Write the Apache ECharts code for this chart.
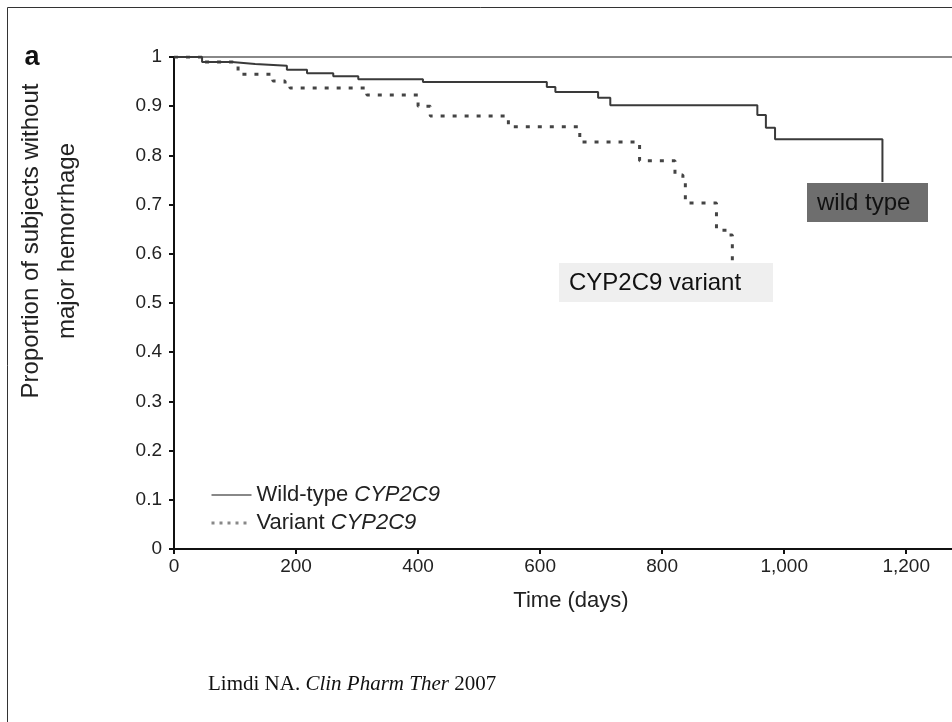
<!DOCTYPE html>
<html>
<head>
<meta charset="utf-8">
<script src="https://cdn.jsdelivr.net/npm/echarts@6/dist/echarts.min.js"></script>
<style>
  html, body { margin: 0; padding: 0; background: #fff; }
  #main { width: 952px; height: 722px; }
</style>
</head>
<body>
<div id="main"></div>
<script>
// Kaplan-Meier steps: [days, proportion]
var wildType = [
    [0, 1], [46, 0.990], [95, 0.986], [133, 0.982], [185, 0.974], [218, 0.967],
    [261, 0.961], [302, 0.955], [408, 0.949], [611, 0.939], [625, 0.929],
    [695, 0.917], [715, 0.902], [956, 0.882], [970, 0.856], [985, 0.833],
    [1161, 0.746]
];
var variant = [
    [0, 1], [46, 0.990], [95, 0.986], [105, 0.965], [162, 0.951], [182, 0.943],
    [190, 0.937], [316, 0.923], [400, 0.900], [420, 0.880], [548, 0.858],
    [665, 0.827], [763, 0.789], [821, 0.760], [834, 0.744], [838, 0.703],
    [889, 0.648], [906, 0.638], [915, 0.587]
];
var seriesNames = ['Wild-type CYP2C9', 'Variant CYP2C9'];
var xTicks = [0, 200, 400, 600, 800, 1000, 1200];
var yTicks = [0, 0.1, 0.2, 0.3, 0.4, 0.5, 0.6, 0.7, 0.8, 0.9, 1];

var sans = 'Liberation Sans, Arial, sans-serif';
var serif = 'Liberation Serif, Times New Roman, serif';

function drawChart() {
    var myChart = echarts.init(document.getElementById('main'));
    var option = {
        animation: false,
        backgroundColor: '#fff',
        grid: { left: 174, top: 57, right: 0, bottom: 173 },
        legend: {
            orient: 'vertical',
            left: 205,
            top: 479,
            itemWidth: 40,
            itemHeight: 14,
            itemGap: 6,
            itemStyle: { opacity: 0 },
            data: [
                { name: seriesNames[0], lineStyle: { color: '#888', width: 2 } },
                { name: seriesNames[1], lineStyle: { color: '#888', width: 3, type: [3, 5] } }
            ],
            formatter: function (name) {
                var parts = name.split(' ');
                return '{n|' + parts[0] + ' }{i|' + parts[1] + '}';
            },
            textStyle: {
                rich: {
                    n: { fontFamily: sans, fontSize: 22, color: '#222' },
                    i: { fontFamily: sans, fontSize: 22, color: '#222', fontStyle: 'italic' }
                }
            }
        },
        xAxis: [{
            type: 'value',
            min: 0,
            max: 1275,
            interval: 200,
            name: 'Time (days)',
            nameLocation: 'middle',
            nameGap: 41,
            nameTextStyle: { fontFamily: sans, fontSize: 22, color: '#222', padding: [0, 0, 0, 16] },
            axisLine: { lineStyle: { color: '#111', width: 2 } },
            axisTick: { length: 5, lineStyle: { color: '#111', width: 2 } },
            axisLabel: {
                margin: 8,
                fontFamily: sans,
                fontSize: 19,
                color: '#222',
                showMaxLabel: false,
                formatter: function (v) {
                    return xTicks.indexOf(v) < 0 ? '' : v.toLocaleString('en-US');
                }
            },
            splitLine: { show: false }
        }, {
            type: 'value',
            position: 'top',
            min: 0,
            max: 1275,
            axisLine: { show: true, lineStyle: { color: '#888', width: 2 } },
            axisTick: { show: false },
            axisLabel: { show: false },
            splitLine: { show: false }
        }],
        yAxis: {
            type: 'value',
            min: 0,
            max: 1,
            interval: 0.1,
            axisLine: { show: true, lineStyle: { color: '#111', width: 2 } },
            axisTick: { show: true, length: 5, lineStyle: { color: '#111', width: 2 } },
            axisLabel: {
                margin: 12,
                fontFamily: sans,
                fontSize: 19,
                color: '#222',
                formatter: function (v) {
                    var t = yTicks.filter(function (y) { return Math.abs(y - v) < 1e-6; })[0];
                    return t === undefined ? '' : String(t);
                }
            },
            splitLine: { show: false }
        },
        series: [{
            name: seriesNames[0],
            type: 'line',
            step: 'end',
            symbol: 'none',
            data: wildType,
            lineStyle: { color: '#3a3a3a', width: 2 },
            itemStyle: { color: '#888' },
            z: 3
        }, {
            name: seriesNames[1],
            type: 'line',
            step: 'end',
            symbol: 'none',
            data: variant,
            lineStyle: { color: '#444', width: 3, type: [4, 8] },
            itemStyle: { color: '#888' },
            z: 2
        }],
        graphic: [
            // outer frame
            { type: 'rect', shape: { x: 7.5, y: 7.5, width: 1200, height: 1200 },
              style: { fill: 'none', stroke: '#333', lineWidth: 1 }, silent: true },
            { type: 'text', x: 32, y: 58,
              style: { text: 'a', font: 'bold 27px ' + sans, fill: '#111', align: 'center', verticalAlign: 'middle' } },
            { type: 'text', x: 31, y: 241, rotation: Math.PI / 2,
              style: { text: 'Proportion of subjects without', font: '24px ' + sans, fill: '#222', align: 'center', verticalAlign: 'middle' } },
            { type: 'text', x: 67, y: 241, rotation: Math.PI / 2,
              style: { text: 'major hemorrhage', font: '24px ' + sans, fill: '#222', align: 'center', verticalAlign: 'middle' } },
            // curve labels
            { type: 'rect', shape: { x: 807, y: 183, width: 121, height: 39 }, style: { fill: '#6e6e6e' }, z: 10 },
            { type: 'text', x: 817, y: 203, z: 11,
              style: { text: 'wild type', font: '24px ' + sans, fill: '#111', verticalAlign: 'middle' } },
            { type: 'rect', shape: { x: 559, y: 263, width: 214, height: 39 }, style: { fill: '#efefef' }, z: 10 },
            { type: 'text', x: 569, y: 283, z: 11,
              style: { text: 'CYP2C9 variant', font: '24px ' + sans, fill: '#111', verticalAlign: 'middle' } },
            // citation
            { type: 'text', x: 208, y: 684,
              style: {
                  text: '{n|Limdi NA. }{i|Clin Pharm Ther}{n| 2007}',
                  verticalAlign: 'middle',
                  rich: {
                      n: { fontFamily: serif, fontSize: 21, fill: '#111' },
                      i: { fontFamily: serif, fontSize: 21, fill: '#111', fontStyle: 'italic' }
                  }
              } }
        ]
    };
    myChart.setOption(option);
}
drawChart();
</script>
</body>
</html>
